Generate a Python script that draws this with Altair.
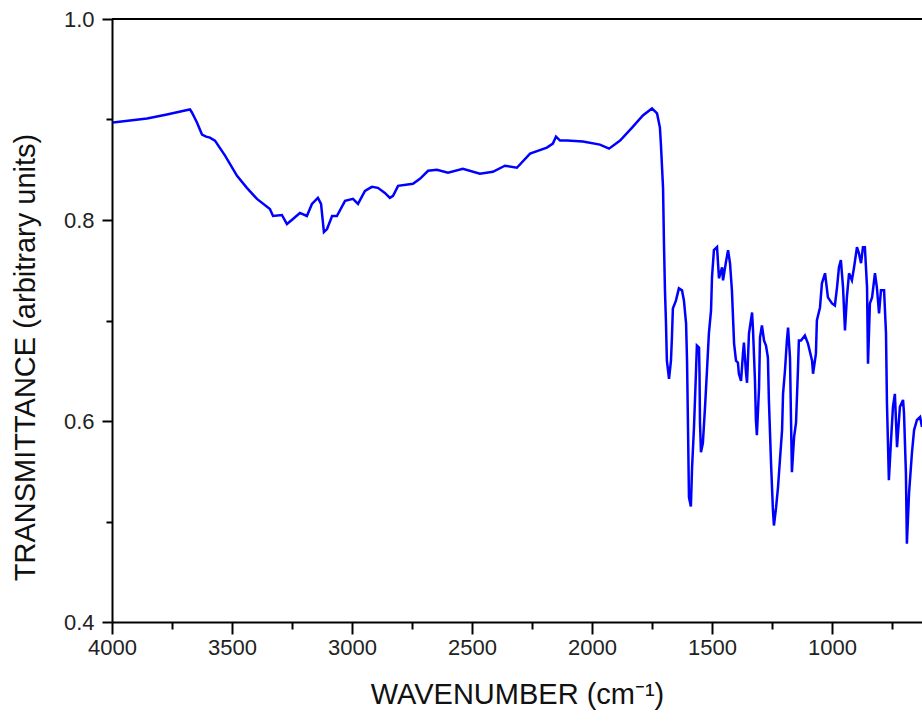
import altair as alt
import pandas as pd

wavenumber = [3996, 3925, 3854, 3771, 3696, 3675, 3667, 3646, 3625, 3608, 3592, 3571, 3529, 3479, 3438, 3396,
              3342, 3329, 3292, 3271, 3246, 3217, 3188, 3167, 3142, 3129, 3117, 3104, 3083, 3063, 3029, 2996,
              2975, 2946, 2917, 2892, 2863, 2842, 2829, 2808, 2746, 2717, 2683, 2646, 2600, 2538, 2467, 2413,
              2363, 2313, 2258, 2188, 2163, 2150, 2133, 2104, 2038, 1967, 1929, 1883, 1833, 1788, 1750, 1729,
              1717, 1713, 1704, 1700, 1696, 1692, 1688, 1679, 1671, 1667, 1663, 1650, 1638, 1625, 1617, 1608,
              1604, 1600, 1596, 1588, 1583, 1575, 1567, 1563, 1554, 1552, 1550, 1546, 1538, 1529, 1521, 1513,
              1504, 1500, 1492, 1479, 1471, 1458, 1454, 1442, 1433, 1425, 1417, 1408, 1400, 1392, 1388, 1379,
              1371, 1367, 1358, 1354, 1346, 1333, 1329, 1321, 1317, 1313, 1304, 1300, 1292, 1283, 1275, 1267,
              1263, 1254, 1246, 1242, 1233, 1225, 1217, 1208, 1204, 1196, 1188, 1183, 1175, 1171, 1167, 1158,
              1150, 1142, 1138, 1129, 1113, 1100, 1083, 1079, 1067, 1063, 1050, 1042, 1029, 1017, 1000, 988,
              979, 971, 963, 954, 946, 938, 929, 917, 908, 896, 888, 879, 871, 863, 854, 850,
              842, 833, 821, 813, 804, 796, 783, 775, 771, 763, 754, 746, 738, 729, 725, 717,
              704, 700, 692, 688, 679, 667, 658, 646, 633, 625]
transmittance = [0.897, 0.899, 0.901, 0.905, 0.909, 0.910, 0.907, 0.897, 0.885, 0.883, 0.882, 0.879, 0.864, 0.844, 0.832, 0.821,
                 0.811, 0.804, 0.805, 0.796, 0.801, 0.807, 0.804, 0.816, 0.822, 0.816, 0.788, 0.791, 0.804, 0.804, 0.819, 0.821,
                 0.816, 0.829, 0.833, 0.832, 0.827, 0.822, 0.824, 0.834, 0.836, 0.841, 0.849, 0.850, 0.847, 0.851, 0.846, 0.848,
                 0.854, 0.852, 0.866, 0.872, 0.876, 0.883, 0.879, 0.879, 0.878, 0.875, 0.871, 0.879, 0.892, 0.904, 0.911, 0.906,
                 0.892, 0.876, 0.832, 0.775, 0.730, 0.700, 0.660, 0.642, 0.660, 0.683, 0.712, 0.720, 0.732, 0.730, 0.720, 0.697,
                 0.660, 0.594, 0.524, 0.515, 0.554, 0.594, 0.647, 0.675, 0.673, 0.647, 0.598, 0.569, 0.578, 0.614, 0.650, 0.687,
                 0.710, 0.743, 0.770, 0.773, 0.742, 0.753, 0.740, 0.758, 0.770, 0.757, 0.730, 0.677, 0.660, 0.658, 0.647, 0.640,
                 0.667, 0.678, 0.647, 0.638, 0.687, 0.708, 0.690, 0.640, 0.601, 0.586, 0.633, 0.683, 0.695, 0.680, 0.675, 0.663,
                 0.621, 0.558, 0.511, 0.496, 0.514, 0.534, 0.561, 0.591, 0.627, 0.650, 0.680, 0.693, 0.663, 0.604, 0.549, 0.584,
                 0.598, 0.650, 0.680, 0.680, 0.685, 0.677, 0.660, 0.647, 0.667, 0.700, 0.713, 0.737, 0.747, 0.723, 0.717, 0.715,
                 0.733, 0.753, 0.760, 0.733, 0.690, 0.723, 0.747, 0.740, 0.753, 0.773, 0.767, 0.757, 0.773, 0.773, 0.733, 0.657,
                 0.717, 0.723, 0.747, 0.733, 0.707, 0.730, 0.730, 0.687, 0.618, 0.541, 0.581, 0.614, 0.627, 0.574, 0.588, 0.614,
                 0.621, 0.608, 0.548, 0.478, 0.528, 0.568, 0.591, 0.601, 0.604, 0.594]

x_major = [4000, 3500, 3000, 2500, 2000, 1500, 1000]
x_minor = [3750, 3250, 2750, 2250, 1750, 1250, 750]
y_major = [0.4, 0.6, 0.8, 1.0]
y_minor = [0.5, 0.7, 0.9]

df = pd.DataFrame({"wn": wavenumber, "T": transmittance})

FONT = "Liberation Sans"
W, H = 810, 603

xscale = alt.Scale(domain=[4000, 625], zero=False, nice=False)
yscale = alt.Scale(domain=[0.4, 1.0], zero=False, nice=False)

main = alt.Chart(df).mark_line(color="#0000ff", strokeWidth=2.5, clip=True).encode(
    x=alt.X("wn:Q", scale=xscale,
            axis=alt.Axis(values=x_major, orient="bottom", title="WAVENUMBER (cm⁻¹)",
                          tickSize=12, tickWidth=2, tickColor="black", domainColor="black", domainWidth=2,
                          labelFont=FONT, labelFontSize=22, labelColor="#222", labelPadding=3,
                          labelFlush=False, labelOverlap=False,
                          titleFont=FONT, titleFontSize=29, titleFontWeight="normal", titleColor="#111",
                          titlePadding=22, grid=False, format="d")),
    y=alt.Y("T:Q", scale=yscale,
            axis=alt.Axis(values=y_major, orient="left", title="TRANSMITTANCE (arbitrary units)",
                          tickSize=10, tickWidth=2, tickColor="black", domainColor="black", domainWidth=2,
                          labelFont=FONT, labelFontSize=22, labelColor="#222", labelPadding=8, format=".1f",
                          labelFlush=False, labelOverlap=False,
                          titleFont=FONT, titleFontSize=29, titleFontWeight="normal", titleColor="#111",
                          titleAngle=270, titleAlign="center", titleBaseline="middle",
                          titleX=-87, titleY=338, grid=False)),
)

minor = alt.Chart(df).mark_line(opacity=0).encode(
    x=alt.X("wn:Q", scale=xscale,
            axis=alt.Axis(values=x_minor, orient="bottom", title=None, labels=False, domain=False,
                          tickSize=7, tickWidth=2, tickColor="black", grid=False)),
    y=alt.Y("T:Q", scale=yscale,
            axis=alt.Axis(values=y_minor, orient="left", title=None, labels=False, domain=False,
                          tickSize=6, tickWidth=2, tickColor="black", grid=False)),
)

top = alt.Chart(pd.DataFrame({"level": [1.0]})).mark_rule(color="black", strokeWidth=2, clip=False).encode(
    y=alt.Y("level:Q", scale=yscale, axis=None),
    x=alt.value(0), x2=alt.value(W),
)

chart = alt.layer(main, minor, top).resolve_axis(x="independent", y="independent").properties(
    width=W, height=H,
    autosize=alt.AutoSizeParams(type="none"),
    padding={"left": 112, "top": 19, "right": 0, "bottom": 105},
).configure_view(stroke=None)

chart.save("out.html", embed_options={"renderer": "svg", "actions": False})
